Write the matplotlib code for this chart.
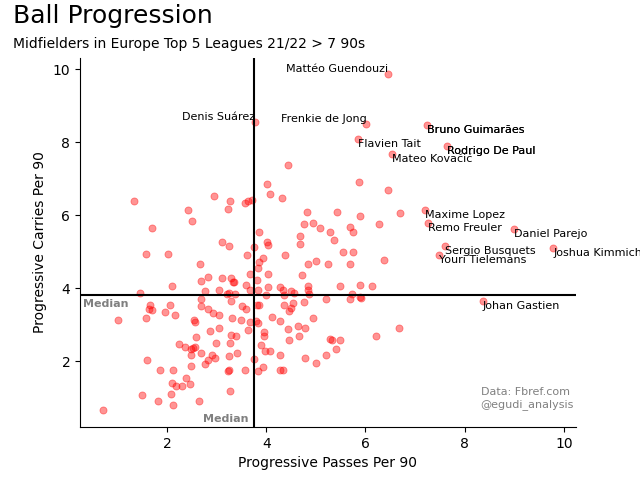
import matplotlib
matplotlib.use("Agg")
import matplotlib.pyplot as plt

# labelled players
names = ["Mattéo Guendouzi", "Denis Suárez", "Frenkie de Jong", "Flavien Tait",
         "Mateo Kovačić", "Bruno Guimarães", "Rodrigo De Paul", "Maxime Lopez",
         "Remo Freuler", "Daniel Parejo", "Sergio Busquets", "Youri Tielemans",
         "Joshua Kimmich", "Johan Gastien"]
named_x = [6.46, 3.77, 6.02, 5.85, 6.54, 7.25, 7.64, 7.20, 7.27, 8.99, 7.61, 7.49, 9.79, 8.36]
named_y = [9.86, 8.55, 8.49, 8.08, 7.69, 8.47, 7.91, 6.14, 5.80, 5.62, 5.15, 4.90, 5.10, 3.64]
label_left = [True, True, True, False, False, False, False, False,
              False, False, False, False, False, False]
# these two names appear twice in the source data
double_names = ["Bruno Guimarães", "Rodrigo De Paul"]

# everyone else
passes = [4.43, 4.02, 5.87, 4.08, 6.46, 4.31, 3.57, 3.63, 3.71, 4.82, 5.43, 5.89, 6.70,
          4.76, 4.95, 5.09, 5.29, 5.37, 5.69, 5.75, 6.28, 3.85, 4.69, 4.69, 4.01, 4.04,
          3.75, 4.37, 3.61, 3.94, 3.85, 4.84, 5.00, 5.25, 5.55, 5.75, 5.69, 6.38, 3.83,
          3.68, 4.04, 4.72, 3.81, 3.59, 4.04, 5.49, 5.89, 6.13, 3.68, 3.83, 4.27, 4.33,
          4.50, 4.56, 4.84, 4.84, 4.86, 4.00, 4.36, 5.73, 5.89, 5.92, 5.69, 5.20, 3.82,
          3.86, 3.60, 3.51, 4.36, 4.54, 4.50, 4.46, 4.76, 4.12, 4.28, 4.95, 3.68, 3.80,
          3.83, 3.63, 3.96, 3.96, 4.44, 4.64, 4.78, 4.66, 4.46, 5.29, 5.33, 5.48, 5.40,
          6.22, 6.68, 3.89, 3.98, 4.08, 4.28, 4.78, 5.21, 5.01, 3.75, 3.94, 3.83, 4.28,
          4.33, 3.57,
          1.65, 1.63, 1.69, 2.05, 1.96, 2.16, 1.57, 1.01, 2.68, 2.69, 2.82, 2.92, 3.05,
          3.29, 2.54, 2.57, 3.31, 3.49, 2.86, 3.05, 3.28, 3.40, 2.58, 2.99, 3.27, 2.24,
          2.37, 2.52, 2.49, 2.56, 2.68, 2.48, 2.91, 2.97, 2.82, 2.76, 3.25, 3.41, 1.59,
          1.85, 2.12, 2.48, 3.22, 3.24, 2.38, 2.10, 2.18, 2.30, 2.46, 3.27, 1.49, 2.08,
          1.81, 2.12, 2.64, 0.70,
          1.33, 2.95, 3.27, 3.23, 2.42, 2.50, 1.69, 3.11, 3.25, 1.57, 2.02, 2.66, 2.68,
          2.82, 3.11, 3.28, 3.35, 3.32, 2.10, 1.45, 2.76, 3.05, 3.20, 3.24, 3.37]
carries = [7.37, 6.85, 6.90, 6.59, 6.68, 6.46, 6.33, 6.38, 6.42, 6.10, 6.10, 5.99, 6.05,
           5.75, 5.80, 5.64, 5.53, 5.33, 5.69, 5.55, 5.75, 5.55, 5.42, 5.20, 5.26, 5.18,
           5.12, 4.90, 4.90, 4.84, 4.71, 4.65, 4.74, 4.65, 4.99, 4.99, 4.65, 4.77, 4.55,
           4.40, 4.40, 4.35, 4.22, 4.10, 4.02, 4.07, 4.10, 4.05, 3.94, 3.94, 4.02, 3.94,
           3.91, 3.86, 4.05, 3.94, 3.83, 3.81, 3.81, 3.83, 3.75, 3.73, 3.70, 3.70, 3.53,
           3.53, 3.42, 3.51, 3.53, 3.59, 3.45, 3.37, 3.62, 3.21, 3.10, 3.17, 3.07, 3.09,
           3.04, 2.85, 2.79, 2.70, 2.87, 2.95, 2.90, 2.70, 2.57, 2.62, 2.57, 2.57, 2.32,
           2.68, 2.92, 2.43, 2.29, 2.29, 2.16, 2.10, 2.18, 1.94, 2.07, 1.85, 1.72, 1.77,
           1.75, 1.77,
           3.53, 3.44, 3.41, 3.53, 3.36, 3.26, 3.17, 3.12, 3.69, 3.51, 3.44, 3.31, 3.26,
           3.64, 3.13, 3.06, 3.17, 3.14, 2.84, 2.92, 2.73, 2.70, 2.65, 2.51, 2.51, 2.46,
           2.40, 2.35, 2.32, 2.38, 2.21, 2.18, 2.18, 2.10, 2.02, 1.91, 2.13, 2.21, 2.02,
           1.77, 1.75, 1.88, 1.73, 1.76, 1.53, 1.39, 1.33, 1.31, 1.36, 1.17, 1.06, 1.09,
           0.92, 0.81, 0.92, 0.65,
           6.40, 6.52, 6.40, 6.16, 6.13, 5.83, 5.66, 5.26, 5.17, 4.93, 4.93, 4.65, 4.21,
           4.32, 4.29, 4.27, 4.18, 4.16, 4.05, 3.88, 3.91, 3.94, 3.83, 3.88, 3.85]

median_passes = 3.75
median_carries = 3.81


def main():
    fig, ax = plt.subplots(figsize=(6.4, 4.8), dpi=100)

    all_x = passes + named_x
    all_y = carries + named_y
    ax.scatter(all_x, all_y, color="red", alpha=0.42, s=26, linewidths=0.6)

    ax.axvline(median_passes, color="black", linewidth=1.5)
    ax.axhline(median_carries, color="black", linewidth=1.5)

    for name, x, y, left in zip(names, named_x, named_y, label_left):
        reps = 2 if name in double_names else 1
        for _ in range(reps):
            if left:
                ax.text(x, y, name, fontsize=8, ha="right", va="bottom")
            else:
                ax.text(x, y, name, fontsize=8, ha="left", va="top")

    ax.text(0.31, median_carries - 0.1, "Median", fontsize=8, color="grey",
            fontweight="bold", va="top", ha="left")
    ax.text(median_passes - 0.1, 0.27, "Median", fontsize=8, color="grey",
            fontweight="bold", va="bottom", ha="right")
    ax.text(8.32, 0.98, "Data: Fbref.com\n@egudi_analysis", fontsize=8,
            color="grey", ha="left", va="center")

    ax.set_xlabel("Progressive Passes Per 90")
    ax.set_ylabel("Progressive Carries Per 90")
    ax.spines["top"].set_visible(False)
    ax.spines["right"].set_visible(False)

    fig.text(0.02, 0.967, "Ball Progression", fontsize=18, va="center", ha="left")
    fig.text(0.02, 0.908, "Midfielders in Europe Top 5 Leagues 21/22 > 7 90s",
             fontsize=10, va="center", ha="left")

    fig.savefig("out.png", dpi=100)


if __name__ == "__main__":
    main()
